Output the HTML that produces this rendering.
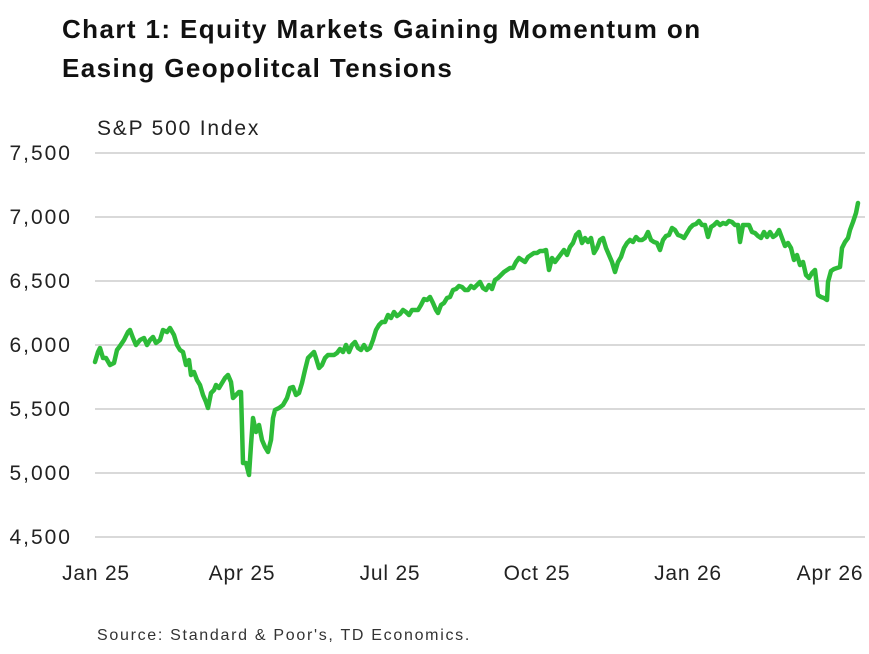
<!DOCTYPE html>
<html><head><meta charset="utf-8"><style>
html,body{margin:0;padding:0;background:#fff;}
body{width:869px;height:649px;overflow:hidden;font-family:"Liberation Sans",sans-serif;}
</style></head><body>
<svg width="869" height="649" xmlns="http://www.w3.org/2000/svg" font-family="Liberation Sans, sans-serif">
<text x="62" y="38" font-size="26" font-weight="bold" fill="#111" letter-spacing="1.4">Chart 1: Equity Markets Gaining Momentum on</text>
<text x="62" y="77" font-size="26" font-weight="bold" fill="#111" letter-spacing="1.4">Easing Geopolitcal Tensions</text>
<text x="97" y="135" font-size="21" fill="#222" letter-spacing="1.8">S&amp;P 500 Index</text>
<g stroke="#d9d9d9" stroke-width="2">
<line x1="95" x2="865" y1="153" y2="153"/><line x1="95" x2="865" y1="217" y2="217"/>
<line x1="95" x2="865" y1="281" y2="281"/><line x1="95" x2="865" y1="345" y2="345"/>
<line x1="95" x2="865" y1="409" y2="409"/><line x1="95" x2="865" y1="473" y2="473"/>
<line x1="95" x2="865" y1="537" y2="537"/></g>
<g font-size="21" fill="#222" text-anchor="end" letter-spacing="2">
<text x="72" y="160">7,500</text><text x="72" y="224">7,000</text><text x="72" y="288">6,500</text>
<text x="72" y="352">6,000</text><text x="72" y="416">5,500</text><text x="72" y="480">5,000</text>
<text x="72" y="544">4,500</text></g>
<g font-size="21" fill="#222" text-anchor="middle" letter-spacing="0.8">
<text x="96" y="580">Jan 25</text><text x="242" y="580">Apr 25</text><text x="390" y="580">Jul 25</text>
<text x="537" y="580">Oct 25</text><text x="688" y="580">Jan 26</text><text x="830" y="580">Apr 26</text></g>
<text x="97" y="640" font-size="16" fill="#333" letter-spacing="1.7">Source: Standard &amp; Poor's, TD Economics.</text>
<polyline fill="none" stroke="#2dbb38" stroke-width="4.5" stroke-linejoin="round" stroke-linecap="round" points="95,362 98,352 100,348 103,358 106,358 110,365 114,363 117,350 120,346 124,340 128,332 130,330 133,338 136,345 140,340 144,338 147,345 150,340 153,337 156,343 160,340 163,330 167,332 170,328 174,335 177,345 180,350 183,352 186,365 189,360 191,375 194,372 197,380 200,385 203,395 206,402 208,408 211,393 214,390 216,385 219,388 222,383 225,378 228,375 231,382 233,398 236,395 239,392 241,392 243,463 246,463 249,475 251,445 253,418 256,432 259,425 262,440 265,447 268,452 271,440 273,418 275,410 279,408 283,405 287,398 290,388 293,387 296,395 299,393 302,383 305,370 308,358 311,355 314,352 316,358 319,368 322,365 325,358 328,355 331,355 334,355 337,353 340,349 343,352 346,345 349,352 352,345 355,342 358,348 361,350 364,345 367,350 370,348 373,340 376,330 379,325 382,322 385,322 388,315 391,318 394,312 397,316 400,314 403,310 406,312 409,315 412,310 415,310 418,310 421,305 424,299 427,300 430,297 433,303 436,310 438,313 441,305 444,303 447,298 450,297 453,290 456,289 459,286 462,287 465,290 468,290 471,286 474,288 477,285 480,282 483,288 486,290 489,285 492,289 495,280 498,278 501,275 504,272 507,270 510,268 513,268 516,262 519,258 522,260 525,262 528,257 531,255 534,253 537,253 540,251 543,251 546,250 549,270 552,258 555,262 558,258 561,254 564,250 567,255 570,247 573,243 576,235 579,232 582,243 585,238 588,242 591,238 594,253 597,248 600,240 603,238 606,248 609,255 612,262 615,272 618,262 621,257 624,248 627,243 630,240 633,242 636,237 639,240 642,240 645,238 648,232 651,240 654,242 657,243 660,250 663,240 666,236 669,235 672,228 675,230 678,235 681,236 684,238 687,233 690,228 693,225 696,224 699,221 702,225 705,225 708,237 711,227 714,225 717,222 720,225 723,223 726,224 729,221 732,222 735,225 738,225 740,242 743,225 746,225 749,225 752,232 755,233 758,236 761,238 764,232 767,237 770,232 773,237 776,235 779,230 782,238 785,246 788,243 791,248 794,260 797,255 800,265 803,262 806,275 809,278 812,273 815,270 818,295 821,297 824,298 827,300 828,282 831,271 834,269 837,268 840,267 842,248 845,242 848,238 850,230 853,222 856,213 858,203"/>
</svg>
</body></html>
